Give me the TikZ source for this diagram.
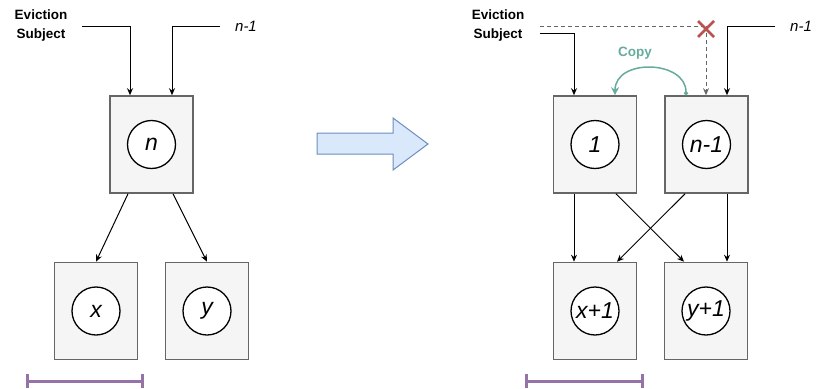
\documentclass[tikz,border=0pt]{standalone}
\usepackage{fontspec}
\setmainfont{Liberation Sans}
\usetikzlibrary{arrows.meta,calc}
\definecolor{boxgray}{HTML}{F5F5F5}
\definecolor{linegray}{HTML}{666666}
\definecolor{copyteal}{HTML}{67AB9F}
\definecolor{cutred}{HTML}{B85450}
\definecolor{barpurple}{HTML}{9673A6}
\definecolor{bigfill}{HTML}{DAE8FC}
\definecolor{bigdraw}{HTML}{6C8EBF}

\begin{document}
\begin{tikzpicture}[x=1pt, y=-1pt,
  blk/.style={draw=linegray, fill=boxgray, line width=1.6pt, minimum width=83pt, minimum height=97pt, inner sep=0pt},
  crc/.style={circle, draw, fill=white, line width=1.3pt, minimum size=48pt, inner sep=0pt, font=\fontsize{23}{23}\selectfont\itshape},
  arr/.style={-{Stealth[length=7pt, width=6pt]}, line width=1pt},
  lbl/.style={font=\fontsize{13.5}{19}\selectfont\bfseries, align=center},
  itl/.style={font=\fontsize{15}{15}\selectfont\itshape},
  bar/.style={{Bar[width=14pt]}-{Bar[width=14pt]}, barpurple, line width=3pt}]
  \useasboundingbox (0,0) rectangle (816,388);
  % left: before eviction
  \node[lbl] (ev) at (41,26) {Eviction\\Subject};
  \node[itl] (nm) at (246,26) {n-1};
  \coordinate (evL) at (82,26);
  \coordinate (nmL) at (220,26);
  \node[blk] (n) at (151.5,144.5) {};
  \node[crc] (cn) at (n) {n};
  \node[blk] (x) at (96,311) {};
  \node[crc] (cx) at (x) {x};
  \node[blk] (y) at (207,311) {};
  \node[crc] (cy) at (y) {y};
  \draw[arr] (evL) -| ([xshift=-21.5pt]n.north);
  \draw[arr] (nmL) -| ([xshift=20.5pt]n.north);
  \draw[arr] ([xshift=-23.5pt]n.south) -- (x.north);
  \draw[arr] ([xshift=21.5pt]n.south) -- (y.north);
  \draw[bar] (26,381) -- (144,381);
  % big arrow
  \draw[fill=bigfill, draw=bigdraw, line width=1pt]
    (317,133) -- (393,133) -- (393,118) -- (428,144) -- (393,170) -- (393,154) -- (317,154) -- cycle;
  % right: after eviction
  \node[lbl] (ev2) at (498,26) {Eviction\\Subject};
  \node[itl] (nm2) at (801,26) {n-1};
  \coordinate (ev2L) at (540,33);
  \coordinate (ev2D) at (540,26);
  \coordinate (nm2L) at (775,26);
  \coordinate (cut) at (706,26);
  \node[blk] (one) at (595,144.5) {};
  \node[crc] (c1) at (one) {1};
  \node[blk] (last) at (706.5,144.5) {};
  \node[crc] (clast) at (last) {n-1};
  \node[blk] (xp) at (595,311) {};
  \node[crc] (cxp) at (xp) {x+1};
  \node[blk] (yp) at (706,311) {};
  \node[crc] (cyp) at (yp) {y+1};
  \draw[arr] (ev2L) -| ([xshift=-21pt]one.north);
  \draw[dash pattern=on 4pt off 3pt, linegray, line width=1pt] (ev2D) -- (cut);
  \draw[arr, dash pattern=on 4pt off 3pt, linegray] (cut) -- (cut |- last.north);
  \draw[cutred, line width=2.5pt] ($(cut)+(-8,-5)$) -- ($(cut)+(8,11)$) ($(cut)+(-8,11)$) -- ($(cut)+(8,-5)$);
  \draw[arr] (nm2L) -| ([xshift=20.5pt]last.north);
  % copy
  \draw[copyteal, line width=1.5pt, {Circle[length=4pt]}-{Stealth[length=8pt, width=8pt]}]
    ([xshift=-20.5pt]last.north) .. controls (686,60) and (615,58) .. ([xshift=20pt]one.north);
  \node[lbl, copyteal] (cp) at (635,53) {Copy};
  % children
  \draw[arr] ([xshift=-21pt]one.south) -- ([xshift=-21pt]xp.north);
  \draw[arr] ([xshift=21pt]one.south) -- ([xshift=-22pt]yp.north);
  \draw[arr] ([xshift=-21.5pt]last.south) -- ([xshift=22pt]xp.north);
  \draw[arr] ([xshift=20.5pt]last.south) -- ([xshift=21pt]yp.north);
  \draw[bar] (525,381) -- (644,381);
\end{tikzpicture}
\end{document}
